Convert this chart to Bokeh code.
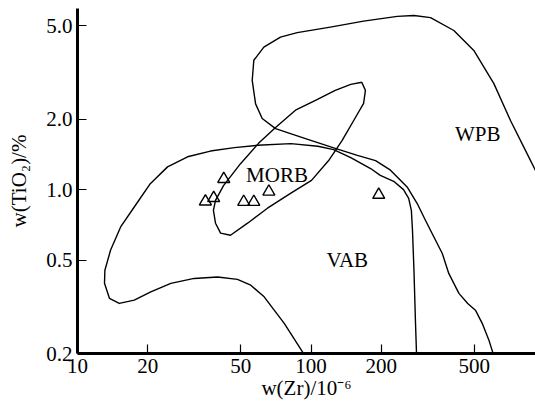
from bokeh.plotting import figure
from bokeh.models import FixedTicker
from bokeh.embed import file_html
from bokeh.resources import INLINE
from bokeh.core.properties import value

# ---- data (Zr in 10^-6, TiO2 in %) ----
vab_zr = [283.5, 280, 276, 272, 269, 262, 249, 226, 198, 180, 148, 125, 107, 82, 59, 47,
          37.1, 29.6, 24.3, 20.5, 17.5, 15.3, 13.85, 13.1, 13.05, 13.7, 15.1, 17.5, 20.6,
          25.1, 31.6, 39.8, 48.4, 55.2, 63, 76.8, 95.7]
vab_ti = [0.191, 0.277, 0.453, 0.671, 0.816, 0.918, 1.00, 1.085, 1.15, 1.23, 1.37, 1.48,
          1.53, 1.57, 1.545, 1.51, 1.46, 1.38, 1.25, 1.06, 0.843, 0.693, 0.551, 0.453,
          0.399, 0.344, 0.327, 0.338, 0.366, 0.398, 0.418, 0.424, 0.414, 0.391, 0.349,
          0.269, 0.191]

wpb_zr = [611, 578, 541, 506, 469, 430, 389, 365, 336, 309, 285, 258, 219, 189, 158, 127,
          94.7, 70.5, 61.8, 57.9, 56, 56.9, 62.8, 74, 87.3, 121, 168, 234, 276, 325, 409,
          498, 607, 715, 843, 1010]
wpb_ti = [0.191, 0.228, 0.269, 0.306, 0.327, 0.361, 0.439, 0.534, 0.628, 0.74, 0.872,
          1.026, 1.21, 1.33, 1.40, 1.50, 1.65, 1.82, 2.01, 2.32, 2.92, 3.56, 4.05, 4.47,
          4.67, 4.93, 5.23, 5.48, 5.53, 5.41, 4.77, 3.92, 2.83, 1.97, 1.42, 0.99]

morb_zr = [165, 171, 168, 155, 136, 119, 100.5, 81.7, 65.1, 53.5, 45.2, 41, 39, 38.2, 39,
           42.2, 49.9, 59.6, 70.5, 85.8, 104.5, 127, 148, 165]
morb_ti = [2.87, 2.65, 2.33, 2.03, 1.62, 1.33, 1.095, 0.964, 0.833, 0.719, 0.639, 0.652,
           0.719, 0.816, 0.90, 1.04, 1.29, 1.575, 1.84, 2.18, 2.40, 2.65, 2.81, 2.87]

sample_zr = [42.3, 35.3, 38.3, 51.5, 56.9, 66.0, 195.0]
sample_ti = [1.11, 0.89, 0.92, 0.886, 0.886, 0.98, 0.95]

region_names = ["MORB", "VAB", "WPB"]
region_zr = [71.5, 143, 518]
region_ti = [1.15, 0.50, 1.73]

x_ticks = [10, 20, 50, 100, 200, 500]
x_tick_labels = ["10", "20", "50", "100", "200", "500"]
y_ticks = [0.2, 0.5, 1.0, 2.0, 5.0]
y_tick_labels = ["0.2", "0.5", "1.0", "2.0", "5.0"]
x_title = "w(Zr)/10⁻⁶"
y_title = "w(TiO₂)/%"

FONT = "Liberation Serif"
FS = "21px"

p = figure(width=535, height=409, x_axis_type="log", y_axis_type="log",
           x_range=(10, 915), y_range=(0.2, 5.92),
           output_backend="svg", toolbar_location=None,
           min_border_left=77, min_border_right=0, min_border_top=8, min_border_bottom=56)
p.outline_line_color = None
p.xgrid.grid_line_color = None
p.ygrid.grid_line_color = None
p.background_fill_color = "white"
p.border_fill_color = "white"

for ax, ticks, labels, title, st in ((p.xaxis, x_ticks, x_tick_labels, x_title, 0),
                                     (p.yaxis, y_ticks, y_tick_labels, y_title, 12)):
    ax.ticker = FixedTicker(ticks=ticks)
    ax.major_label_overrides = {t: l for t, l in zip(ticks, labels)}
    ax.axis_line_width = 3
    ax.axis_line_color = "black"
    ax.major_tick_in = 9
    ax.major_tick_out = 0
    ax.major_tick_line_width = 1.2
    ax.major_tick_line_color = "black"
    ax.minor_tick_line_color = None
    ax.major_label_text_font = FONT
    ax.major_label_text_font_size = FS
    ax.major_label_text_color = "black"
    ax.major_label_standoff = 5
    ax.axis_label = title
    ax.axis_label_text_font = FONT
    ax.axis_label_text_font_size = FS
    ax.axis_label_text_font_style = "normal"
    ax.axis_label_text_color = "black"
    ax.axis_label_standoff = st

lw = 1.4
p.line(vab_zr, vab_ti, line_color="black", line_width=lw, line_join="round")
p.line(wpb_zr, wpb_ti, line_color="black", line_width=lw, line_join="round")
p.line(morb_zr, morb_ti, line_color="black", line_width=lw, line_join="round")

p.scatter(sample_zr, sample_ti, marker="triangle", size=12, fill_color=None,
          line_color="black", line_width=1.4)

p.text(x=region_zr, y=region_ti, text=region_names, text_font=value(FONT),
       text_font_size=FS, text_align="center", text_baseline="middle", text_color="black")

open("out.html", "w").write(file_html(p, INLINE))
